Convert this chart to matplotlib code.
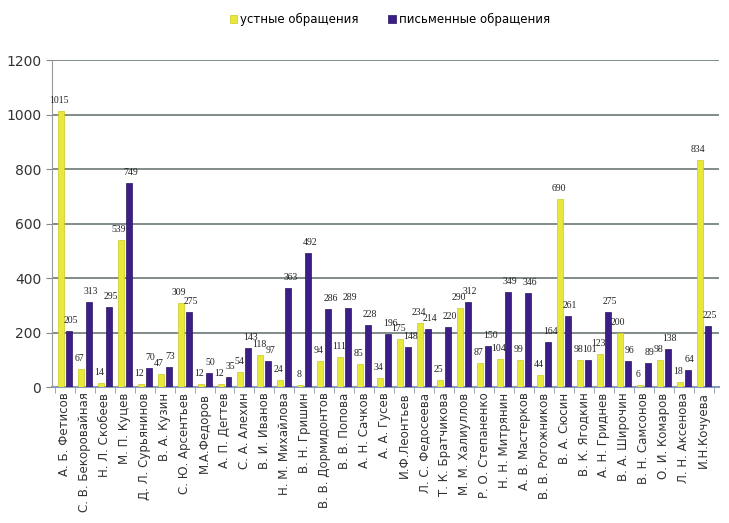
import numpy as np
import matplotlib
matplotlib.use('Agg')
from matplotlib import pyplot as plt

names = ['А. Б. Фетисов', 'С. В. Бекоровайная', 'Н. Л. Скобеев', 'М. П. Куцев',
         'Д. Л. Сурьянинов', 'В. А. Кузин', 'С. Ю. Арсентьев', 'М.А.Федоров',
         'А. П. Дегтев', 'С. А. Алехин', 'В. И. Иванов', 'Н. М. Михайлова',
         'В. Н. Гришин', 'В. В. Дормидонтов', 'В. В. Попова', 'А. Н. Сачков',
         'А. А. Гусев', 'И.Ф.Леонтьев', 'Л. С. Федосеева', 'Т. К. Братчикова',
         'М. М. Халиуллов', 'Р. О. Степаненко', 'Н. Н. Митрянин', 'А. В. Мастерков',
         'В. В. Рогожников', 'В. А. Сюсин', 'В. К. Ягодкин', 'А. Н. Гриднев',
         'В. А. Широчин', 'В. Н. Самсонов', 'О. И. Комаров', 'Л. Н. Аксенова',
         'И.Н.Кочуева']
oral = [1015, 67, 14, 539, 12, 47, 309, 12, 12, 54, 118, 24, 8, 94, 111, 85,
        34, 175, 234, 25, 290, 87, 104, 99, 44, 690, 98, 123, 200, 6, 98, 18, 834]
written = [205, 313, 295, 749, 70, 73, 275, 50, 35, 143, 97, 363, 492, 286, 289, 228,
           196, 148, 214, 220, 312, 150, 349, 346, 164, 261, 101, 275, 96, 89, 138, 64, 225]

fig = plt.figure(figsize=(7.29, 5.23), dpi=100)
ax = fig.add_axes([0.071, 0.26, 0.915, 0.625])

x = np.arange(len(names))
w = 0.3
b1 = ax.bar(x - 0.2, oral, w, color='#e8e83a', edgecolor='#c8c820', linewidth=0.5,
            label='устные обращения', zorder=3)
b2 = ax.bar(x + 0.2, written, w, color='#3b1f86', edgecolor='#2a1460', linewidth=0.5,
            label='письменные обращения', zorder=3)

# value labels, oral ones a bit to the left, written ones a bit to the right
for xi, v in zip(x, oral):
    ax.text(xi - 0.28, v + 22, str(v), ha='center', va='bottom', fontsize=7,
            family='Liberation Serif', color='#222222', zorder=4)
for xi, v in zip(x, written):
    ax.text(xi + 0.3, v + 22, str(v), ha='center', va='bottom', fontsize=7,
            family='Liberation Serif', color='#222222', zorder=4)

ax.set_ylim(0, 1200)
ax.set_xlim(-0.65, 32.75)
ax.set_yticks(range(0, 1201, 200))
ax.yaxis.grid(True, color='#5f6d6b', linewidth=1.1, zorder=0)
ax.set_xticks(x)
ax.set_xticklabels(names, rotation=90, fontsize=8.5, color='#333333')
ax.set_xticks(np.arange(-0.5, len(names), 1), minor=True)
ax.tick_params(axis='x', which='major', length=0, pad=4)
ax.tick_params(axis='x', which='minor', length=4, color='#8899aa')
ax.tick_params(axis='y', labelsize=10, color='#888888', length=4, labelcolor='#333333')
for s in ['top', 'right']:
    ax.spines[s].set_visible(False)
ax.spines['left'].set_color('#999999')
ax.spines['bottom'].set_color('#8899bb')
ax.spines['bottom'].set_linewidth(1.5)

fig.legend(handles=[b1, b2], loc='upper center', bbox_to_anchor=(0.535, 0.995), ncol=2,
           frameon=False, fontsize=8.5, handlelength=0.6, handleheight=0.6,
           handletextpad=0.3, columnspacing=2.5)

fig.savefig('out.png', dpi=100)
